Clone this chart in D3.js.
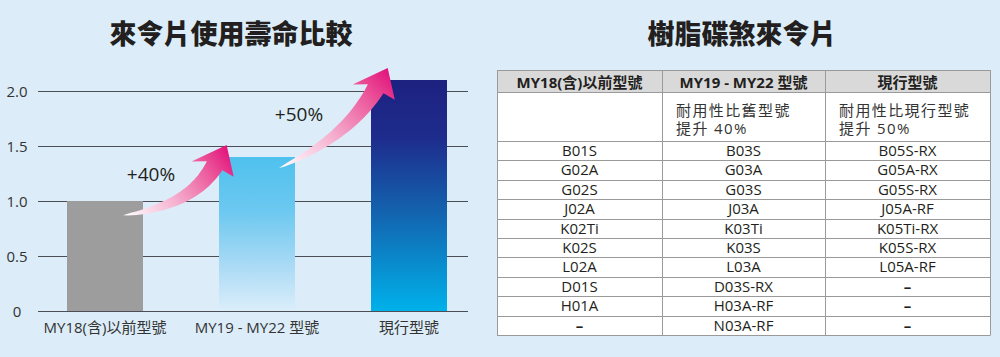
<!DOCTYPE html>
<html>
<head>
<meta charset="utf-8">
<script src="https://cdn.jsdelivr.net/npm/d3@7"></script>
<style>
  body { margin: 0; background: #dcedf9; }
  svg { display: block; font-family: "Open Sans", "Noto Sans CJK TC", sans-serif; }
</style>
</head>
<body>
<svg width="1000" height="357"></svg>
<script>
// chart data
var categories = ["MY18(含)以前型號", "MY19 - MY22 型號", "現行型號"];
var lifeValues = [1.0, 1.4, 2.1];
var yTicks = [0, 0.5, 1.0, 1.5, 2.0];
var gainLabels = ["+40%", "+50%"];

// table data
var tableHeaders = ["MY18(含)以前型號", "MY19 - MY22 型號", "現行型號"];
var tableNotes = [[], ["耐用性比舊型號", "提升 40%"], ["耐用性比現行型號", "提升 50%"]];
var colOld = ["B01S", "G02A", "G02S", "J02A", "K02Ti", "K02S", "L02A", "D01S", "H01A", "–"];
var colMid = ["B03S", "G03A", "G03S", "J03A", "K03Ti", "K03S", "L03A", "D03S-RX", "H03A-RF", "N03A-RF"];
var colNew = ["B05S-RX", "G05A-RX", "G05S-RX", "J05A-RF", "K05Ti-RX", "K05S-RX", "L05A-RF", "–", "–", "–"];

var svg = d3.select("svg");
var textColor = "#231f20";

svg.append("rect").attr("width", 1000).attr("height", 357).attr("fill", "#dcedf9");

// titles
svg.append("text")
    .attr("x", 231).attr("y", 32)
    .attr("text-anchor", "middle").attr("dominant-baseline", "central")
    .style("font-family", "'Noto Sans CJK TC'")
    .style("font-weight", 900).style("font-size", "27px")
    .attr("fill", textColor)
    .text("來令片使用壽命比較");

svg.append("text")
    .attr("x", 742).attr("y", 32)
    .attr("text-anchor", "middle").attr("dominant-baseline", "central")
    .style("font-family", "'Noto Sans CJK TC'")
    .style("font-weight", 900).style("font-size", "27px")
    .attr("fill", textColor)
    .text("樹脂碟煞來令片");

// ---------- bar chart ----------
var gridLeft = 38, gridRight = 468;

var x = d3.scaleBand().domain(categories).range([67, 447]).paddingInner(0.5).paddingOuter(0);
var y = d3.scaleLinear().domain([0, 2]).range([311, 91]);

var defs = svg.append("defs");

function vGrad(id, stops) {
  var g = defs.append("linearGradient").attr("id", id)
      .attr("x1", 0).attr("y1", 0).attr("x2", 0).attr("y2", 1);
  stops.forEach(function(s) {
    g.append("stop").attr("offset", s[0]).attr("stop-color", s[1]);
  });
}
vGrad("barGray", [[0, "#9d9d9e"], [1, "#9d9d9e"]]);
vGrad("barLight", [[0, "#4fc1ee"], [0.35, "#6cc8f0"], [0.7, "#a9daf5"], [1, "#dbeefa"]]);
vGrad("barDark", [[0, "#1d2180"], [0.25, "#1e2c8c"], [0.6, "#1268b2"], [1, "#00b1ea"]]);
var barFills = ["url(#barGray)", "url(#barLight)", "url(#barDark)"];

// gridlines
svg.append("g").selectAll("line")
    .data(yTicks)
  .enter().append("line")
    .attr("x1", gridLeft).attr("x2", gridRight)
    .attr("y1", function(d) { return y(d) + 0.5; })
    .attr("y2", function(d) { return y(d) + 0.5; })
    .attr("stroke", "#4b4f55").attr("stroke-width", 1);

// y tick labels
svg.append("g").selectAll("text")
    .data(yTicks)
  .enter().append("text")
    .attr("x", 17)
    .attr("y", function(d) { return y(d); })
    .attr("text-anchor", "middle").attr("dominant-baseline", "central")
    .style("font-size", "15px")
    .attr("fill", "#333")
    .text(function(d) { return d === 0 ? "0" : d3.format(".1f")(d); });

// bars
svg.append("g").selectAll("rect")
    .data(lifeValues)
  .enter().append("rect")
    .attr("x", function(d, i) { return x(categories[i]); })
    .attr("width", x.bandwidth())
    .attr("y", function(d) { return y(d); })
    .attr("height", function(d) { return y(0) - y(d); })
    .attr("fill", function(d, i) { return barFills[i]; });

// x labels
svg.append("g").selectAll("text")
    .data(categories)
  .enter().append("text")
    .attr("x", function(d) { return x(d) + x.bandwidth() / 2; })
    .attr("y", 333)
    .attr("text-anchor", "middle")
    .style("font-size", "15px")
    .attr("fill", "#333")
    .text(function(d) { return d; });

// gain arrows between bars
function arrowPath(T, P) {
  var ang = 60 * Math.PI / 180;
  var d = [Math.cos(ang), -Math.sin(ang)];
  var n = [d[1], -d[0]];
  var M = [P[0] - 24 * d[0], P[1] - 24 * d[1]];
  var dist = Math.hypot(M[0] - T[0], M[1] - T[1]);
  var C = [M[0] - d[0] * dist * 0.45, M[1] - d[1] * dist * 0.45];
  var upper = [], lower = [];
  for (var k = 0; k <= 30; k++) {
    var t = k / 30;
    var px = (1 - t) * (1 - t) * T[0] + 2 * (1 - t) * t * C[0] + t * t * M[0];
    var py = (1 - t) * (1 - t) * T[1] + 2 * (1 - t) * t * C[1] + t * t * M[1];
    var tx = 2 * (1 - t) * (C[0] - T[0]) + 2 * t * (M[0] - C[0]);
    var ty = 2 * (1 - t) * (C[1] - T[1]) + 2 * t * (M[1] - C[1]);
    var len = Math.hypot(tx, ty);
    var nx = ty / len, ny = -tx / len;
    var w = 9 * Math.pow(t, 0.7);
    upper.push([px + nx * w, py + ny * w]);
    lower.push([px - nx * w, py - ny * w]);
  }
  var L = [P[0] - 32 * d[0] + 22 * n[0], P[1] - 32 * d[1] + 22 * n[1]];
  var R = [P[0] - 24 * d[0] - 22 * n[0], P[1] - 24 * d[1] - 22 * n[1]];
  var pts = upper.concat([L, P, R]).concat(lower.reverse());
  return "M" + pts.map(function(p) { return p[0].toFixed(1) + "," + p[1].toFixed(1); }).join("L") + "Z";
}

var arrows = [0, 1].map(function(i) {
  var from = categories[i], to = categories[i + 1];
  var tail = [x(from) + x.bandwidth() * (i === 0 ? 0.74 : 0.79), y(lifeValues[i] - (i === 0 ? 0.13 : 0.1))];
  var tip = [x(to) + x.bandwidth() * (i === 0 ? 0.1 : 0.22), y(lifeValues[i + 1] + 0.11)];
  return {tail: tail, tip: tip, label: gainLabels[i]};
});

arrows.forEach(function(a, i) {
  var g = defs.append("linearGradient").attr("id", "arrowGrad" + i)
      .attr("gradientUnits", "userSpaceOnUse")
      .attr("x1", a.tail[0]).attr("y1", a.tail[1])
      .attr("x2", a.tip[0]).attr("y2", a.tip[1]);
  g.append("stop").attr("offset", 0).attr("stop-color", "#ffffff");
  g.append("stop").attr("offset", 0.4).attr("stop-color", "#f5b3d1");
  g.append("stop").attr("offset", 0.75).attr("stop-color", "#ec5b9d");
  g.append("stop").attr("offset", 1).attr("stop-color", "#e2127b");

  svg.append("path")
      .attr("d", arrowPath(a.tail, a.tip))
      .attr("fill", "url(#arrowGrad" + i + ")");
});

// gain labels
svg.append("text")
    .attr("x", 151).attr("y", y(1.18))
    .attr("text-anchor", "middle")
    .style("font-size", "19px").attr("fill", textColor)
    .text(gainLabels[0]);
svg.append("text")
    .attr("x", 299).attr("y", y(1.73))
    .attr("text-anchor", "middle")
    .style("font-size", "19px").attr("fill", textColor)
    .text(gainLabels[1]);

// ---------- table ----------
var colX = [497, 662, 825, 990];
var headTop = 70, headBottom = 92, noteBottom = 141, tableBottom = 335;
var rowY = d3.scaleBand().domain(d3.range(colOld.length)).range([noteBottom, tableBottom]);
var columns = [colOld, colMid, colNew];
var borderColor = "#9a9a9a";

var table = svg.append("g");

table.append("rect")
    .attr("x", colX[0]).attr("y", headTop)
    .attr("width", colX[3] - colX[0]).attr("height", tableBottom - headTop)
    .attr("fill", "#ffffff");
table.append("rect")
    .attr("x", colX[0]).attr("y", headTop)
    .attr("width", colX[3] - colX[0]).attr("height", headBottom - headTop)
    .attr("fill", "#d9d9d9");

// horizontal rules
var hLines = [headTop, headBottom, noteBottom].concat(colOld.map(function(d, i) { return rowY(i) + rowY.bandwidth(); }));
table.selectAll("line.h")
    .data(hLines)
  .enter().append("line")
    .attr("class", "h")
    .attr("x1", colX[0]).attr("x2", colX[3])
    .attr("y1", function(d) { return Math.round(d) + 0.5; })
    .attr("y2", function(d) { return Math.round(d) + 0.5; })
    .attr("stroke", borderColor);

table.selectAll("line.v")
    .data(colX)
  .enter().append("line")
    .attr("class", "v")
    .attr("x1", function(d) { return d + 0.5; }).attr("x2", function(d) { return d + 0.5; })
    .attr("y1", headTop).attr("y2", tableBottom + 0.5)
    .attr("stroke", borderColor);

// header text
table.selectAll("text.head")
    .data(tableHeaders)
  .enter().append("text")
    .attr("class", "head")
    .attr("x", function(d, i) { return (colX[i] + colX[i + 1]) / 2; })
    .attr("y", 88)
    .attr("text-anchor", "middle")
    .style("font-size", "15px").style("font-weight", 700)
    .attr("fill", textColor)
    .text(function(d) { return d; });

// note row
tableNotes.forEach(function(lines, i) {
  lines.forEach(function(line, j) {
    table.append("text")
        .attr("x", colX[i] + 14)
        .attr("y", 115.5 + j * 18)
        .style("font-size", "15px")
        .style("letter-spacing", "1.4px")
        .attr("fill", "#333")
        .text(line);
  });
});

// body cells
columns.forEach(function(col, c) {
  table.append("g").selectAll("text")
      .data(col)
    .enter().append("text")
      .attr("x", (colX[c] + colX[c + 1]) / 2)
      .attr("y", function(d, i) { return rowY(i) + rowY.bandwidth() / 2; })
      .attr("dy", "0.35em")
      .attr("text-anchor", "middle")
      .style("font-size", "15px")
      .style("font-weight", function(d) { return d === "–" ? 700 : 400; })
      .attr("fill", textColor)
      .text(function(d) { return d; });
});
</script>
</body>
</html>
